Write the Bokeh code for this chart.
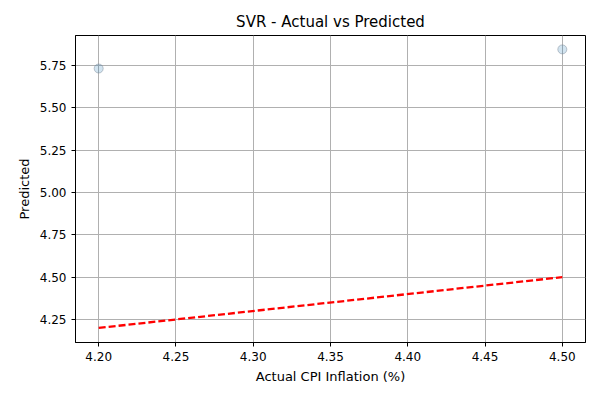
from bokeh.plotting import figure
from bokeh.models import Range1d, FixedTicker, NumeralTickFormatter
from bokeh.embed import file_html
from bokeh.resources import INLINE

# data
actual = [4.20, 4.50]
predicted = [5.732, 5.845]
ideal = [4.20, 4.50]

p = figure(width=600, height=400, frame_width=510, frame_height=307,
           min_border_left=75, min_border_top=35, min_border_right=15, min_border_bottom=58,
           output_backend="svg", toolbar_location=None,
           x_range=Range1d(4.185, 4.515), y_range=Range1d(4.114, 5.927),
           title="SVR - Actual vs Predicted")

p.title.align = "center"
p.title.text_font = "DejaVu Sans"
p.title.text_font_size = "15px"
p.title.text_font_style = "normal"
p.title.text_color = "black"

p.scatter(actual, predicted, size=9, fill_color="#1f77b4", fill_alpha=0.2,
          line_color="#7f8c99", line_alpha=0.5)
p.line(ideal, ideal, line_color="red", line_width=2.3, line_dash="7 3")

p.xaxis.axis_label = "Actual CPI Inflation (%)"
p.yaxis.axis_label = "Predicted"
p.xaxis.ticker = FixedTicker(ticks=[4.20, 4.25, 4.30, 4.35, 4.40, 4.45, 4.50])
p.yaxis.ticker = FixedTicker(ticks=[4.25, 4.50, 4.75, 5.00, 5.25, 5.50, 5.75])
p.xaxis.formatter = NumeralTickFormatter(format="0.00")
p.yaxis.formatter = NumeralTickFormatter(format="0.00")
for ax in (p.xaxis, p.yaxis):
    ax.axis_label_text_font = "DejaVu Sans"
    ax.axis_label_text_font_size = "13px"
    ax.axis_label_text_font_style = "normal"
    ax.axis_label_text_color = "black"
    ax.major_label_text_font = "DejaVu Sans"
    ax.major_label_text_font_size = "12px"
    ax.major_label_text_color = "black"
    ax.axis_line_color = "black"
    ax.major_tick_line_color = "black"
    ax.minor_tick_line_color = None
    ax.major_tick_out = 4
    ax.major_tick_in = 0
p.grid.grid_line_color = "#b0b0b0"
p.grid.grid_line_alpha = 1.0
p.outline_line_color = "black"
p.outline_line_alpha = 1.0

open("out.html", "w").write(file_html(p, INLINE))
